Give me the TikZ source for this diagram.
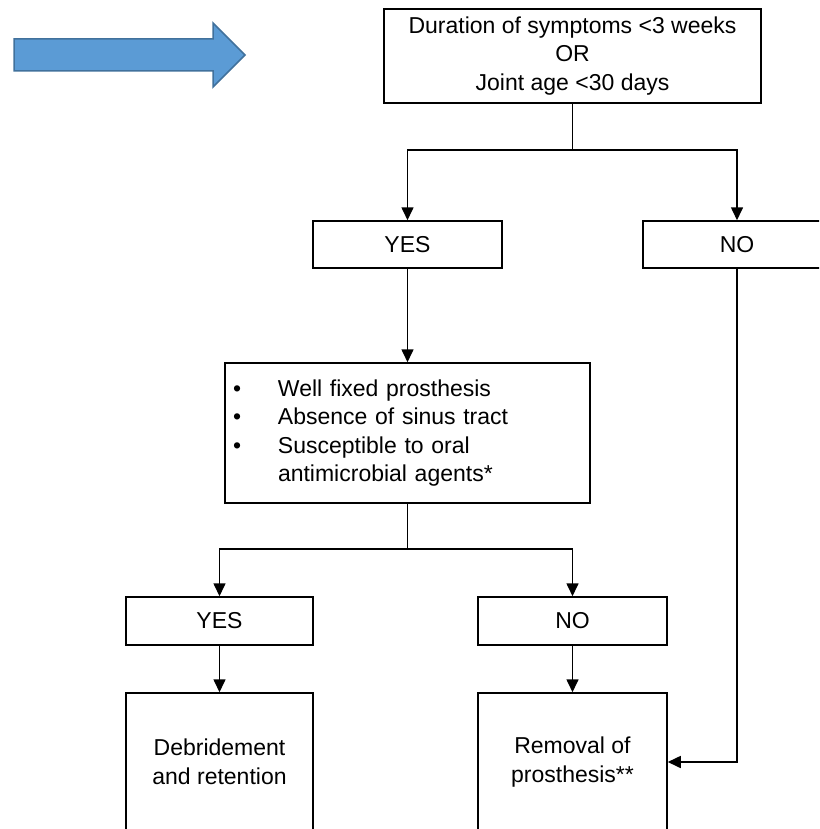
\documentclass[tikz,border=0pt]{standalone}
\usepackage{fontspec}
\setmainfont{Liberation Sans}
\usetikzlibrary{arrows.meta}

\begin{document}
\begin{tikzpicture}[x=1pt, y=-1pt, line width=1.6pt,
    box/.style={rectangle, draw, line width=1.5pt, inner sep=0pt, align=center, font=\fontsize{23}{28.5}\selectfont},
    flow/.style={-{Triangle[length=13pt, width=12pt]}},
    cue/.style={fill=cueblue, draw=cueedge, line width=1.5pt, line join=miter}]
    \definecolor{cueblue}{HTML}{5B9BD5}
    \definecolor{cueedge}{HTML}{41719C}
    \clip (0,0) rectangle (819,829);
    % Blue pointer
    \filldraw[cue] (14,39) -- (213,39) -- (213,23) -- (245,55) -- (213,87) -- (213,71) -- (14,71) -- cycle;
    % First question
    \node[box, minimum width=377, minimum height=94] (start) at (572.5,56) {\raisebox{-3pt}{\begin{tabular}{@{}c@{}}Duration of symptoms <3 weeks\\OR\\Joint age <30 days\end{tabular}}};
    \node[box, minimum width=189, minimum height=47] (yes1) at (407.5,244.5) {YES};
    \node[box, minimum width=188, minimum height=47] (no1) at (737,244.5) {NO};
    % Second question
    \node[box, minimum height=140, text width=349, inner xsep=8pt, align=left] (check) at (407.5,433)
        {\makebox[45pt][l]{\textbullet}Well fixed prosthesis\\
         \makebox[45pt][l]{\textbullet}Absence of sinus tract\\
         \makebox[45pt][l]{\textbullet}Susceptible to oral\\
         \hspace*{45pt}antimicrobial agents*};
    \node[box, minimum width=187, minimum height=48] (yes2) at (219.5,621) {YES};
    \node[box, minimum width=189, minimum height=48] (no2) at (572.5,621) {NO};
    % Outcomes
    \node[box, minimum width=187, minimum height=138] (keep) at (219.5,762) {Debridement\\and retention};
    \node[box, minimum width=189, minimum height=138] (removal) at (572.5,762) {Removal of\\prosthesis**};
    \coordinate (split1) at (572.5,150);
    \coordinate (split2) at (407.5,549);
    \draw (start) -- (split1);
    \draw[flow] (split1) -| (yes1);
    \draw[flow] (split1) -| (no1);
    \draw[flow] (yes1) -- (check);
    \draw (check) -- (split2);
    \draw[flow] (split2) -| (yes2);
    \draw[flow] (split2) -| (no2);
    \draw[flow] (yes2) -- (keep);
    \draw[flow] (no2) -- (removal);
    \draw[flow] (no1.south) |- (removal.east);
\end{tikzpicture}
\end{document}
